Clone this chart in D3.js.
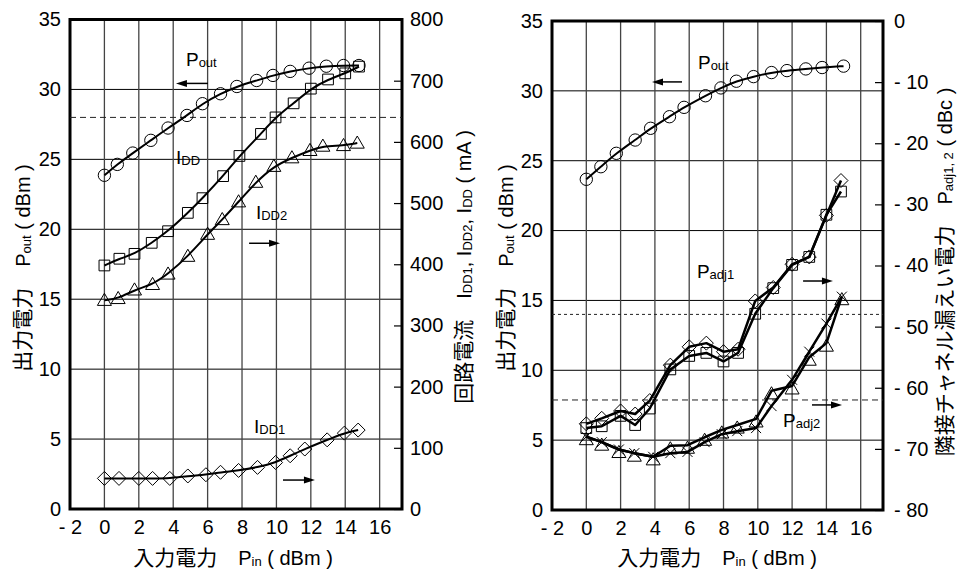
<!DOCTYPE html>
<meta charset="utf-8">
<style>
body { margin: 0; background: #fff; }
svg { display: block; }
text { font-family: "Liberation Sans", Arial, sans-serif; fill: #000; }
.jp { font-family: "Noto Sans CJK JP", sans-serif; }
</style>
<svg width="959" height="570"></svg>
<script src="https://d3js.org/d3.v7.min.js"></script>
<script>

// ---- data ----
// left panel: output power and supply currents vs input power
var pinPoutL = [0, 0.75, 1.65, 2.7, 3.7, 4.8, 5.7, 6.75, 7.7, 8.85, 9.8, 10.8, 11.9, 12.9, 13.9, 14.8]
var poutL    = [23.86, 24.64, 25.45, 26.36, 27.24, 28.14, 28.98, 29.69, 30.21, 30.64, 31.0, 31.29, 31.52, 31.66, 31.71, 31.71]
var pinIdd   = [0, 0.87, 1.75, 2.75, 3.7, 4.85, 5.7, 6.9, 7.85, 9.1, 9.95, 11.0, 12.0, 13.0, 14.0, 14.8]
var idd      = [398, 409, 417, 435, 454, 484, 508, 544, 577, 613, 640, 663, 687, 702, 712, 723]
var pinIdd2  = [0, 0.8, 1.75, 2.8, 3.7, 4.85, 6.0, 6.85, 7.8, 8.8, 9.85, 10.9, 11.95, 12.7, 13.9, 14.7]
var idd2     = [341, 344, 358, 367, 384, 413, 449, 473, 502, 534, 560, 574, 586, 593, 594, 598]
var pinIdd1  = [0, 0.85, 2.0, 2.8, 3.8, 4.85, 5.9, 6.75, 7.8, 8.9, 9.95, 10.8, 11.65, 12.95, 13.95, 14.75]
var idd1     = [50, 50, 50, 50, 50, 54, 56, 60, 63, 68, 76, 87, 98, 113, 124, 129]

// right panel: output power and adjacent channel leakage vs input power
var pinPoutR = [0, 0.85, 1.75, 2.85, 3.75, 4.85, 5.7, 6.95, 7.85, 8.75, 9.75, 10.8, 11.7, 12.8, 13.75, 15.0]
var poutR    = [23.67, 24.57, 25.53, 26.48, 27.32, 28.15, 28.82, 29.65, 30.21, 30.69, 31.02, 31.31, 31.45, 31.57, 31.67, 31.77]
var pinAdj1  = [0, 0.9, 2.0, 2.85, 3.7, 4.9, 6.0, 7.0, 8.0, 8.85, 9.85, 10.9, 12.0, 13.0, 14.0, 14.85]
var padj1Dia = [-65.9, -65.0, -63.8, -64.3, -62.1, -56.3, -53.3, -52.7, -54.1, -53.7, -45.8, -43.6, -39.8, -38.6, -31.8, -26.1]
var padj1Sq  = [-66.6, -66.3, -64.6, -66.1, -63.4, -57.0, -54.8, -54.3, -55.7, -54.3, -47.9, -43.7, -39.9, -38.6, -31.7, -27.9]
var pinAdj2  = [0, 0.9, 1.9, 2.8, 3.9, 4.9, 5.9, 6.9, 7.9, 8.8, 9.9, 10.8, 12.0, 13.0, 14.0, 14.9]
var padj2Tri = [-68.0, -68.9, -70.1, -70.7, -71.3, -69.5, -69.4, -68.1, -66.9, -66.1, -65.1, -60.5, -59.7, -55.0, -52.7, -45.1]
var padj2X   = [-68.0, -68.9, -70.1, -70.7, -71.3, -70.7, -70.5, -68.9, -67.6, -67.1, -66.6, -63.0, -58.7, -54.1, -49.5, -45.1]

// reference levels
var poutLimit = 28        // dBm, dashed in left panel
var adjLimits = [-48, -62] // dBc, dotted / dashed in right panel

// ticks
var xTicks = d3.range(-2, 17, 2)
var poutTicks = d3.range(0, 36, 5)
var iddTicks = d3.range(0, 801, 100)
var adjTicks = d3.range(-80, 1, 10)

var svg = d3.select("svg")

function zip(xs, ys) { return xs.map(function(x, i) { return [x, ys[i]] }) }
function fmt(d) { return d < 0 ? "- " + (-d) : "" + d }

// draws one text made of [string, size, dy, jp] parts
function label(g, parts, x, y, anchor, rot) {
  var t = g.append("text")
    .attr("text-anchor", anchor || "start")
    .attr("transform", "translate(" + x + "," + y + ")" + (rot ? " rotate(" + rot + ")" : ""))
  parts.forEach(function(p) {
    var s = t.append("tspan").text(p[0]).style("font-size", p[1] + "px")
    if (p[2]) s.attr("dy", p[2])
    if (p[3]) s.attr("class", "jp")
  })
  return t
}

function arrow(g, x1, x2, y) {
  var dir = x2 > x1 ? 1 : -1
  g.append("line").attr("x1", x1).attr("x2", x2 - dir * 8).attr("y1", y).attr("y2", y)
    .attr("stroke", "#000").attr("stroke-width", 1.5)
  g.append("path")
    .attr("d", "M" + x2 + "," + y + "L" + (x2 - dir * 11) + "," + (y - 3.5) + "L" + (x2 - dir * 11) + "," + (y + 3.5) + "Z")
    .attr("fill", "#000")
}

function marker(type) {
  if (type === "circle") return d3.symbol(d3.symbolCircle, 120)()
  if (type === "square") return d3.symbol(d3.symbolSquare, 115)()
  if (type === "triangle") return d3.symbol(d3.symbolTriangle, 85)()
  if (type === "diamond") return "M0,-7L7,0L0,7L-7,0Z"
  return "M-5,-5L5,5M-5,5L5,-5"
}

function series(g, x, y, xs, ys, type, curve, width, shift) {
  var pts = zip(xs, ys)
  g.append("path")
    .datum(pts)
    .attr("fill", "none")
    .attr("stroke", "#000")
    .attr("stroke-width", width)
    .attr("stroke-linejoin", "round")
    .attr("d", d3.line().x(function(d) { return x(d[0]) }).y(function(d) { return y(d[1]) }).curve(curve))
  g.selectAll(null)
    .data(pts)
    .enter().append("path")
    .attr("d", marker(type))
    .attr("transform", function(d) { return "translate(" + x(d[0]) + "," + (y(d[1]) + (shift || 0)) + ")" })
    .attr("fill", "none")
    .attr("stroke", "#000")
    .attr("stroke-width", 1)
}

// frame, grid and axes of one panel
function panel(x, yL, yR, rTicks, rPad) {
  var g = svg.append("g")
  var x0 = x.range()[0], x1 = x.range()[1]
  var yb = yL.range()[0], yt = yL.range()[1]

  g.selectAll(".hg").data(poutTicks.slice(1, -1)).enter().append("line")
    .attr("x1", x0).attr("x2", x1)
    .attr("y1", function(d) { return yL(d) }).attr("y2", function(d) { return yL(d) })
    .attr("stroke", "#000").attr("stroke-width", 1)
  g.selectAll(".vg").data(xTicks.slice(1)).enter().append("line")
    .attr("x1", function(d) { return x(d) }).attr("x2", function(d) { return x(d) })
    .attr("y1", yt).attr("y2", yb)
    .attr("stroke", "#444").attr("stroke-width", 1.3)

  var ax = g.append("g").attr("transform", "translate(0," + yb + ")")
    .call(d3.axisBottom(x).tickValues(xTicks).tickSize(0).tickPadding(11).tickFormat(fmt))
  var ay = g.append("g").attr("transform", "translate(" + x0 + ",0)")
    .call(d3.axisLeft(yL).tickValues(poutTicks).tickSize(0).tickPadding(9))
  var ar = g.append("g").attr("transform", "translate(" + x1 + ",0)")
    .call(d3.axisRight(yR).tickValues(rTicks).tickSizeInner(-8).tickSizeOuter(0).tickPadding(rPad).tickFormat(fmt))
  ;[ax, ay, ar].forEach(function(a) {
    a.select(".domain").remove()
    a.selectAll("text").style("font-size", "20px").attr("fill", "#000")
  })
  ar.selectAll("line").attr("stroke", "#000").attr("stroke-width", 1.2)

  g.append("rect")
    .attr("x", x0).attr("y", yt).attr("width", x1 - x0).attr("height", yb - yt)
    .attr("fill", "none").attr("stroke", "#000").attr("stroke-width", 3)
  return g
}

// ---- left panel ----
var xL = d3.scaleLinear().domain([-2, 17.3]).range([70, 402])
var yL = d3.scaleLinear().domain([0, 35]).range([509, 19.5])
var yI = d3.scaleLinear().domain([0, 800]).range([509, 19.5])
var gL = panel(xL, yL, yI, iddTicks, 8)

gL.append("line").attr("x1", 70).attr("x2", 402)
  .attr("y1", yL(poutLimit)).attr("y2", yL(poutLimit))
  .attr("stroke", "#222").attr("stroke-width", 1).attr("stroke-dasharray", "6,4")

series(gL, xL, yL, pinPoutL, poutL, "circle", d3.curveBasis, 2)
series(gL, xL, yI, pinIdd, idd, "square", d3.curveBasis, 2)
series(gL, xL, yI, pinIdd2, idd2, "triangle", d3.curveBasis, 2, 1)
series(gL, xL, yI, pinIdd1, idd1, "diamond", d3.curveBasis, 2)

label(gL, [["P", 19], ["out", 13, 1]], xL(4.74), yL(31.64))
arrow(gL, xL(6.02), xL(4.16), yL(30.43))
label(gL, [["I", 19], ["DD", 13, 1]], xL(4.16), yL(24.64))
label(gL, [["I", 19], ["DD2", 13, 1]], xL(8.81), yL(20.71))
arrow(gL, xL(8.41), xL(10.21), yL(19.0))
label(gL, [["I", 19], ["DD1", 13, 1]], xL(8.7), yL(5.45))
arrow(gL, xL(10.38), xL(12.24), yL(2.07))

// axis titles
label(svg, [["入力電力", 21, 0, true], ["　", 21, 0, true], ["P", 20], ["in", 13, 1], [" ( dBm )", 20, -1]], 233, 565, "middle")
label(svg, [["出力電力", 21, 0, true], ["　", 21, 0, true], ["P", 20], ["out", 13, 1], [" ( dBm )", 20, -1]], 30, 268, "middle", -90)
label(svg, [["回路電流", 21, 0, true], ["　", 21, 0, true], ["I", 20], ["DD1", 13, 1], [", ", 20, -1], ["I", 20],
  ["DD2", 13, 1], [", ", 20, -1], ["I", 20], ["DD", 13, 1], [" ( mA )", 20, -1]], 471, 267, "middle", -90)

// ---- right panel ----
var xR = d3.scaleLinear().domain([-2, 17.3]).range([552, 883])
var yR = d3.scaleLinear().domain([0, 35]).range([510, 21])
var yA = d3.scaleLinear().domain([-80, 0]).range([510, 21])
var gR = panel(xR, yR, yA, adjTicks, 11)

gR.append("line").attr("x1", 552).attr("x2", 883)
  .attr("y1", yA(adjLimits[0])).attr("y2", yA(adjLimits[0]))
  .attr("stroke", "#222").attr("stroke-width", 1).attr("stroke-dasharray", "3,3")
gR.append("line").attr("x1", 552).attr("x2", 883)
  .attr("y1", yA(adjLimits[1])).attr("y2", yA(adjLimits[1]))
  .attr("stroke", "#222").attr("stroke-width", 1).attr("stroke-dasharray", "6,4")

series(gR, xR, yR, pinPoutR, poutR, "circle", d3.curveBasis, 2)
series(gR, xR, yA, pinAdj1, padj1Dia, "diamond", d3.curveLinear, 2.5)
series(gR, xR, yA, pinAdj1, padj1Sq, "square", d3.curveLinear, 2.5)
series(gR, xR, yA, pinAdj2, padj2Tri, "triangle", d3.curveLinear, 2.5, 4)
series(gR, xR, yA, pinAdj2, padj2X, "x", d3.curveLinear, 2.5)

label(gR, [["P", 19], ["out", 13, 1]], xR(6.51), yR(31.57))
arrow(gR, xR(5.58), xR(3.83), yR(30.64))
label(gR, [["P", 19], ["adj1", 13, 1]], xR(6.45), yR(16.61))
arrow(gR, xR(12.64), xR(14.38), yR(16.39))
label(gR, [["P", 19], ["adj2", 13, 1]], xR(11.47), yR(5.96))
arrow(gR, xR(13.16), xR(14.91), yR(7.52))

label(svg, [["入力電力", 21, 0, true], ["　", 21, 0, true], ["P", 20], ["in", 13, 1], [" ( dBm )", 20, -1]], 717, 565, "middle")
label(svg, [["出力電力", 21, 0, true], ["　", 21, 0, true], ["P", 20], ["out", 13, 1], [" ( dBm )", 20, -1]], 513, 268, "middle", -90)
label(svg, [["隣接チャネル漏えい電力", 21, 0, true], ["　", 21, 0, true], ["P", 20], ["adj1, 2", 13, 1], [" ( dBc )", 20, -1]], 952, 272, "middle", -90)

</script>
